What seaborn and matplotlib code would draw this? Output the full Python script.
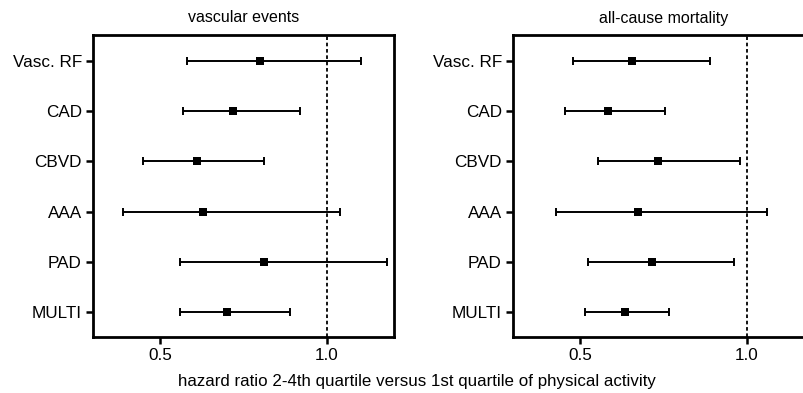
"""
Forest plot: hazard ratios of physical activity (2-4th vs 1st quartile)
"""

import numpy as np
import pandas as pd
import matplotlib
matplotlib.use("Agg")
import matplotlib.pyplot as plt
import seaborn as sns

# Data
groups = ["Vasc. RF", "CAD", "CBVD", "AAA", "PAD", "MULTI"]

vasc_hr = [0.80, 0.72, 0.61, 0.63, 0.81, 0.70]
vasc_lo = [0.58, 0.57, 0.45, 0.39, 0.56, 0.56]
vasc_hi = [1.10, 0.92, 0.81, 1.04, 1.18, 0.89]

mort_hr = [0.655, 0.585, 0.735, 0.675, 0.715, 0.635]
mort_lo = [0.48, 0.455, 0.555, 0.43, 0.525, 0.515]
mort_hi = [0.89, 0.755, 0.98, 1.06, 0.96, 0.765]

titles = ["vascular events", "all-cause mortality"]
xticks = [0.5, 1.0]
xlabel = "hazard ratio 2-4th quartile versus 1st quartile of physical activity"

sns.set_style("ticks")
plt.rcParams["font.family"] = ["Liberation Sans", "DejaVu Sans"]
plt.rcParams["text.color"] = "black"
plt.rcParams["xtick.color"] = "black"
plt.rcParams["ytick.color"] = "black"

fig = plt.figure(figsize=(8.04, 3.93), dpi=100)
ax_left = fig.add_axes([93 / 804, 1 - 337 / 393, 301 / 804, 302 / 393])
ax_right = fig.add_axes([513 / 804, 1 - 337 / 393, 301 / 804, 302 / 393])

panels = [
    (ax_left, titles[0], vasc_hr, vasc_lo, vasc_hi),
    (ax_right, titles[1], mort_hr, mort_lo, mort_hi),
]

for ax, title, hr, lo, hi in panels:
    df = pd.DataFrame({"group": groups, "hr": hr, "lo": lo, "hi": hi})
    df["pos"] = np.arange(len(df))

    ax.errorbar(df["hr"], df["pos"],
                xerr=[df["hr"] - df["lo"], df["hi"] - df["hr"]],
                fmt="none", ecolor="black", elinewidth=1.4,
                capsize=3.2, capthick=1.4, zorder=2)
    sns.scatterplot(data=df, x="hr", y="pos", marker="s", s=30,
                    color="black", edgecolor="black", linewidth=0,
                    ax=ax, zorder=3, legend=False)
    ax.axvline(1.0, color="black", linestyle=(0, (2, 1.5)), linewidth=1.3, zorder=1)

    ax.set_xlim(0.3, 1.2)
    ax.set_ylim(5.5, -0.52)
    ax.set_xticks(xticks)
    ax.set_xticklabels([f"{t:.1f}" for t in xticks])
    ax.set_yticks(df["pos"])
    ax.set_yticklabels(df["group"])
    ax.set_xlabel("")
    ax.set_ylabel("")
    ax.set_title(title, fontsize=11.5, pad=9, color="black")

    ax.tick_params(axis="both", direction="out", length=5, width=1.8,
                   labelsize=12.3, color="black", labelcolor="black", pad=3)
    for side in ["top", "bottom", "left", "right"]:
        ax.spines[side].set_visible(True)
        ax.spines[side].set_linewidth(2)
        ax.spines[side].set_color("black")

fig.text(417 / 804, 1 - 389 / 393, xlabel, ha="center", va="bottom",
         fontsize=12.2, color="black")

fig.savefig("out.png", dpi=100)
